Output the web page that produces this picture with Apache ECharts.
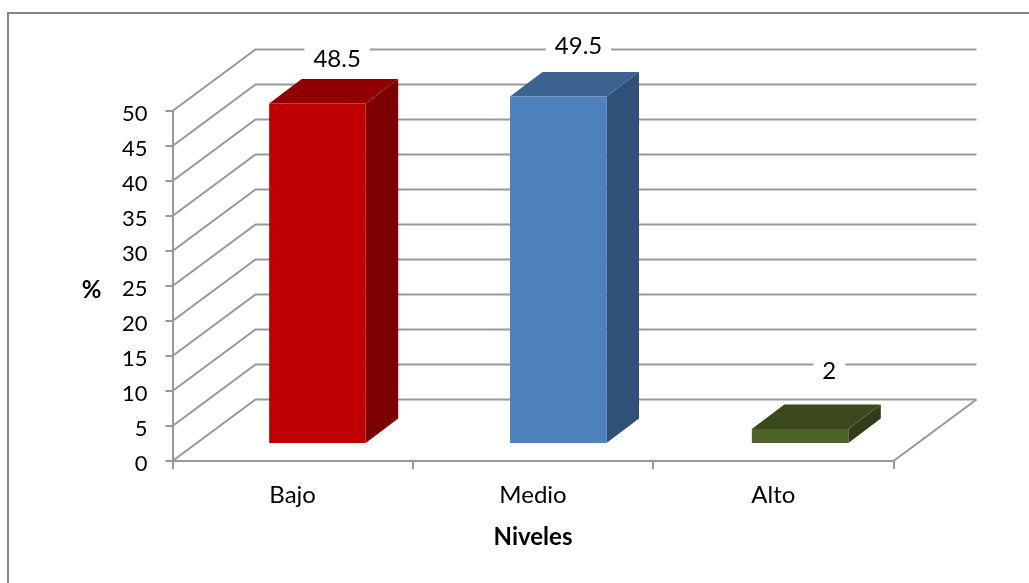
<!DOCTYPE html>
<html><head><meta charset="utf-8">
<style>html,body{margin:0;padding:0;background:#fff}#c{width:1029px;height:583px}</style>
<script src="https://cdn.jsdelivr.net/npm/echarts@6/dist/echarts.min.js"></script>
</head><body><div id="c"></div>
<script>
const categories = ['Bajo', 'Medio', 'Alto'];
const values = [48.5, 49.5, 2];
const yTicks = [0, 5, 10, 15, 20, 25, 30, 35, 40, 45, 50];

const FONT = 'Lato';
const GRID_COLOR = '#989898';
const faces = [
  { front: '#C00000', top: '#900000', side: '#7C0000' },
  { front: '#4F81BD', top: '#3C6291', side: '#2F5077' },
  { front: '#4F6228', top: '#3B4A1E', side: '#303D18' }
];
const wallDepth = { dx: 83, dy: -61.5 };
const barShiftX = [-23.5, -23, -21.5];
const barShiftY = -18;
const barWidth = 96.5;
const barDepth = { dx: 32.5, dy: -24.5 };
const labelShift = [{ dx: 44.5, dy: -44 }, { dx: 45.5, dy: -50 }, { dx: 56, dy: -58 }];

function renderWall(params, api) {
  const cs = params.coordSys;
  const y = api.coord([0, api.value(0)])[1];
  const x0 = cs.x, x1 = cs.x + cs.width;
  const children = [{
    type: 'polyline',
    shape: { points: [[x0, y], [x0 + wallDepth.dx, y + wallDepth.dy], [x1 + wallDepth.dx, y + wallDepth.dy]] },
    style: { stroke: GRID_COLOR, lineWidth: 2, fill: null }
  }];
  if (api.value(0) === 0) {
    children.push({
      type: 'line',
      shape: { x1: x1, y1: y, x2: x1 + wallDepth.dx, y2: y + wallDepth.dy },
      style: { stroke: GRID_COLOR, lineWidth: 2 }
    });
  }
  return { type: 'group', children: children };
}

function renderBar(params, api) {
  const i = api.value(0);
  const top = api.coord([i, api.value(1)]);
  const base = api.coord([i, 0]);
  const l = top[0] + barShiftX[i], r = l + barWidth;
  const t = top[1] + barShiftY, b = base[1] + barShiftY;
  const d = barDepth, c = faces[i];
  const poly = (pts, fill) => ({ type: 'polygon', shape: { points: pts }, style: { fill: fill, stroke: null } });
  return {
    type: 'group',
    children: [
      poly([[r, t], [r + d.dx, t + d.dy], [r + d.dx, b + d.dy], [r, b]], c.side),
      poly([[l, t], [l + d.dx, t + d.dy], [r + d.dx, t + d.dy], [r, t]], c.top),
      poly([[l, t], [r, t], [r, b], [l, b]], c.front)
    ]
  };
}

function renderLabel(params, api) {
  const i = api.value(0);
  const top = api.coord([i, api.value(1)]);
  const s = labelShift[i];
  return {
    type: 'text',
    x: top[0] + s.dx,
    y: top[1] + barShiftY + s.dy,
    style: {
      text: String(api.value(1)),
      font: '24px ' + FONT,
      fill: '#000',
      align: 'center',
      verticalAlign: 'middle',
      backgroundColor: '#fff',
      padding: [7, 9]
    }
  };
}

const barData = values.map((v, i) => [i, v]);
const chart = echarts.init(document.getElementById('c'), null, { renderer: 'canvas' });
chart.setOption({
  animation: false,
  backgroundColor: '#fff',
  graphic: [{
    type: 'rect',
    shape: { x: 8, y: 13, width: 1060, height: 620 },
    style: { fill: null, stroke: '#868686', lineWidth: 2 },
    silent: true
  }],
  grid: { left: 172.5, top: 111, width: 721, height: 350 },
  xAxis: {
    type: 'category',
    data: categories,
    axisLine: { lineStyle: { color: GRID_COLOR, width: 2 } },
    axisTick: { show: true, alignWithLabel: false, length: 8, lineStyle: { color: GRID_COLOR, width: 2 } },
    axisLabel: { color: '#000', fontFamily: FONT, fontSize: 24, margin: 22 },
    name: 'Niveles',
    nameLocation: 'middle',
    nameGap: 64,
    nameTextStyle: { color: '#000', fontFamily: FONT, fontSize: 24, fontWeight: 'bold' }
  },
  yAxis: {
    type: 'value',
    min: 0,
    max: 50,
    interval: 5,
    axisLine: { show: true, lineStyle: { color: GRID_COLOR, width: 2 } },
    axisTick: { show: true, length: 7, lineStyle: { color: GRID_COLOR, width: 2 } },
    axisLabel: { color: '#000', fontFamily: FONT, fontSize: 22, margin: 25, verticalAlign: 'top', lineHeight: 6 },
    splitLine: { show: false },
    name: '%',
    nameLocation: 'middle',
    nameRotate: 0,
    nameGap: 71,
    nameTextStyle: { color: '#000', fontFamily: FONT, fontSize: 24, fontWeight: 'bold', verticalAlign: 'top', lineHeight: 8 }
  },
  series: [
    { type: 'custom', name: 'wall', renderItem: renderWall, data: yTicks.map(v => [v]), encode: { y: 0 }, z: 1, silent: true },
    { type: 'custom', name: 'bars', renderItem: renderBar, data: barData, encode: { x: 0, y: 1 }, z: 2 },
    { type: 'custom', name: 'labels', renderItem: renderLabel, data: barData, encode: { x: 0, y: 1 }, z: 3, silent: true }
  ]
});
</script></body></html>
